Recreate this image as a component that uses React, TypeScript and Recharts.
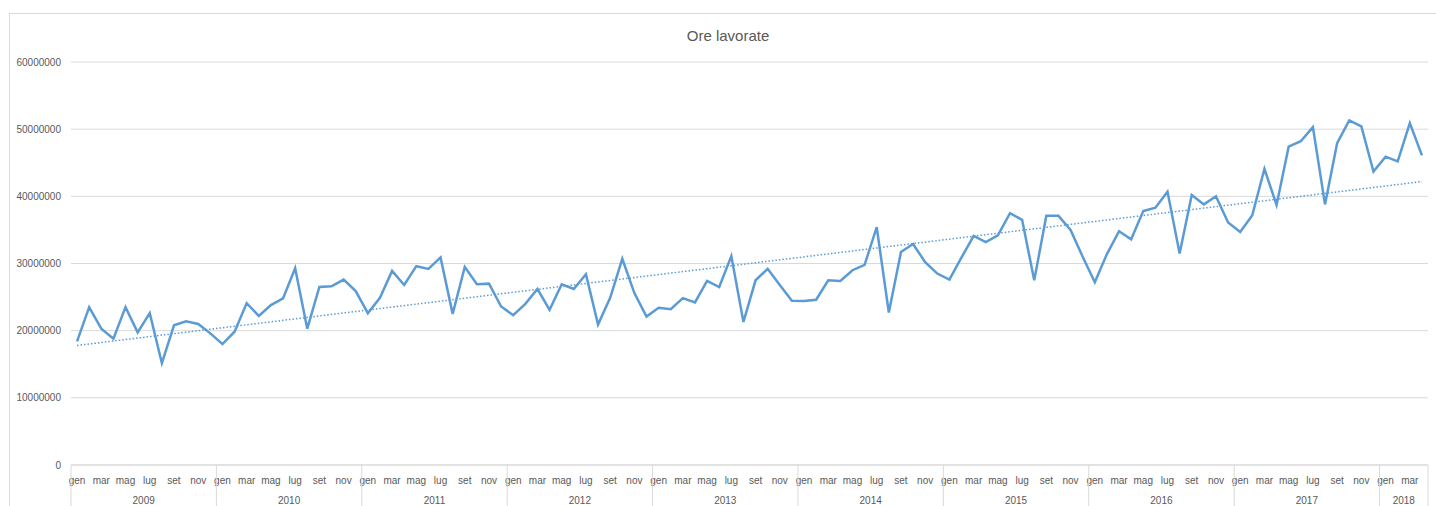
import { LineChart, Line, XAxis, YAxis, CartesianGrid, ReferenceLine } from "recharts";

const MONTHS = ["gen", "feb", "mar", "apr", "mag", "giu", "lug", "ago", "set", "ott", "nov", "dic"];
const YEARS = [2009, 2010, 2011, 2012, 2013, 2014, 2015, 2016, 2017, 2018];
const Y_TICKS = [0, 10000000, 20000000, 30000000, 40000000, 50000000, 60000000];

// ore lavorate per mese, gen 2009 -> apr 2018
const ORE = [
  18400000, 23500000, 20300000, 18800000, 23500000, 19750000, 22600000, 15150000, 20800000, 21400000, 21000000, 19600000,
  18000000, 19850000, 24100000, 22200000, 23800000, 24800000, 29300000, 20300000, 26500000, 26600000, 27600000, 25900000,
  22600000, 24900000, 28900000, 26800000, 29600000, 29200000, 30900000, 22500000, 29500000, 26900000, 27000000, 23600000,
  22300000, 24000000, 26200000, 23100000, 26900000, 26200000, 28400000, 20900000, 24900000, 30700000, 25600000, 22100000,
  23400000, 23200000, 24850000, 24200000, 27400000, 26500000, 31100000, 21300000, 27500000, 29200000, 26800000, 24450000,
  24400000, 24600000, 27500000, 27400000, 29000000, 29800000, 35400000, 22700000, 31700000, 32900000, 30200000, 28500000,
  27600000, 30900000, 34100000, 33200000, 34200000, 37500000, 36500000, 27500000, 37100000, 37100000, 35000000, 31000000,
  27200000, 31400000, 34800000, 33600000, 37800000, 38300000, 40700000, 31500000, 40200000, 38800000, 40000000, 36100000,
  34700000, 37200000, 44100000, 38700000, 47400000, 48200000, 50300000, 38800000, 47900000, 51300000, 50400000, 43700000,
  45900000, 45200000, 50900000, 46100000,
];

// linea di tendenza (lineare), estremi
const TREND_START = 17800000;
const TREND_END = 42200000;

const data = ORE.map((v, i) => ({
  key: `${YEARS[Math.floor(i / 12)]}-${i % 12}`,
  month: MONTHS[i % 12],
  year: YEARS[Math.floor(i / 12)],
  ore: v,
}));

const W = 1436;
const H = 506;
const PLOT_LEFT = 71;
const PLOT_RIGHT = 1428;
const BAND = (PLOT_RIGHT - PLOT_LEFT) / data.length;
const PAD = { left: BAND / 2, right: BAND / 2 };
const AXIS_Y = 465;
const FONT = "'Liberation Sans', Arial, sans-serif";
const GREY = "#595959";

function MonthTick(props: any) {
  const { x, payload } = props;
  const d = data[payload.index];
  return (
    <text x={x} y={AXIS_Y + 19} textAnchor="middle" fontSize={10} fill={GREY} fontFamily={FONT}>
      {d ? d.month : ""}
    </text>
  );
}

function YearTick(props: any) {
  const { x, payload } = props;
  const i = payload.index;
  const d = data[i];
  if (!d) return null;
  const left = x - BAND / 2;
  const items = [];
  if (i % 12 === 0) {
    const n = data.filter((r) => r.year === d.year).length;
    items.push(<line key="l" x1={left} x2={left} y1={AXIS_Y} y2={H} stroke="#d9d9d9" />);
    items.push(
      <text key="t" x={left + (n * BAND) / 2} y={AXIS_Y + 39} textAnchor="middle" fontSize={10} fill={GREY} fontFamily={FONT}>
        {d.year}
      </text>
    );
  }
  if (i === data.length - 1) {
    items.push(<line key="r" x1={x + BAND / 2} x2={x + BAND / 2} y1={AXIS_Y} y2={H} stroke="#d9d9d9" />);
  }
  return <g>{items}</g>;
}

export default function App() {
  return (
    <div style={{ position: "absolute", left: 0, top: 0, width: W, height: H, background: "#fff", overflow: "hidden" }}>
      <div
        style={{
          position: "absolute",
          left: 9,
          top: 13,
          width: 1460,
          height: 520,
          border: "1px solid #d9d9d9",
          boxSizing: "border-box",
        }}
      />
      <div
        style={{
          position: "absolute",
          left: 0,
          width: 1456,
          top: 27,
          textAlign: "center",
          fontFamily: FONT,
          fontSize: 15,
          color: GREY,
        }}
      >
        Ore lavorate
      </div>
      <div style={{ position: "absolute", left: 0, top: 0 }}>
        <LineChart width={W} height={H} data={data} margin={{ top: 62, right: W - PLOT_RIGHT, left: 0, bottom: 0 }}>
          <CartesianGrid vertical={false} stroke="#d9d9d9" />
          <YAxis
            width={PLOT_LEFT}
            domain={[0, 60000000]}
            ticks={Y_TICKS}
            axisLine={false}
            tickLine={false}
            tickMargin={4}
            tick={{ fontSize: 10, fill: GREY, fontFamily: FONT }}
          />
          <XAxis
            dataKey="key"
            interval={1}
            height={20}
            padding={PAD}
            axisLine={{ stroke: "#d9d9d9" }}
            tickLine={false}
            tick={<MonthTick />}
          />
          <XAxis
            xAxisId="year"
            dataKey="key"
            interval={0}
            height={21}
            padding={PAD}
            axisLine={false}
            tickLine={false}
            tick={<YearTick />}
          />
          <ReferenceLine
            segment={[
              { x: data[0].key, y: TREND_START },
              { x: data[data.length - 1].key, y: TREND_END },
            ]}
            stroke="#5b9bd5"
            strokeWidth={1.5}
            strokeDasharray="1.5 2"
            ifOverflow="visible"
          />
          <Line
            type="linear"
            dataKey="ore"
            stroke="#5b9bd5"
            strokeWidth={2.5}
            dot={false}
            isAnimationActive={false}
          />
        </LineChart>
      </div>
    </div>
  );
}
